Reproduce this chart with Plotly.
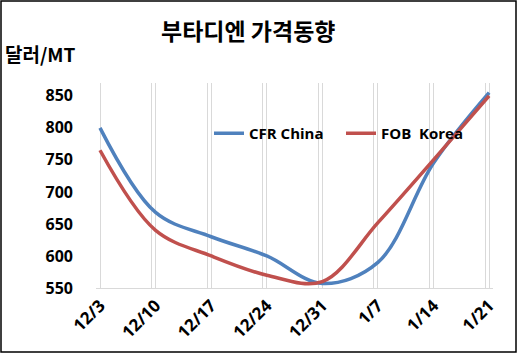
import plotly.graph_objects as go

categories = ["12/3", "12/10", "12/17", "12/24", "12/31", "1/7", "1/14", "1/21"]
cfr_china = [800, 668, 630, 600, 557, 590, 745, 855]
fob_korea = [765, 640, 600, 570, 560, 652, 750, 850]
y_ticks = [550, 600, 650, 700, 750, 800, 850]

W, H = 518, 354
L, R, T, B = 96, 25, 83, 66
pw, ph = W - L - R, H - T - B

xs = list(range(len(categories)))
font = "Open Sans, Noto Sans CJK KR, sans-serif"

fig = go.Figure()
fig.add_trace(go.Scatter(x=xs, y=cfr_china, name="CFR China", mode="lines",
                         line=dict(color="#4F81BD", width=3.5, shape="spline", smoothing=1.0)))
fig.add_trace(go.Scatter(x=xs, y=fob_korea, name="FOB  Korea", mode="lines",
                         line=dict(color="#C0504D", width=3.5, shape="spline", smoothing=1.0)))

def px_x(p):
    return (p - L) / pw

def px_y(p):
    return 1 - (p - T) / ph

fig.update_layout(
    width=W, height=H,
    margin=dict(l=L, r=R, t=T, b=B),
    paper_bgcolor="white", plot_bgcolor="white",
    font=dict(family=font, color="black"),
    showlegend=True,
    legend=dict(orientation="h", x=px_x(209), y=px_y(117), xanchor="left", yanchor="top",
                bgcolor="rgba(0,0,0,0)", font=dict(size=15, family=font, weight="bold"),
                itemwidth=30, tracegroupgap=0, entrywidth=87, entrywidthmode="pixels"),
    xaxis=dict(range=[-0.072, 7.07], tickmode="array", tickvals=xs, ticktext=categories,
               tickangle=-45, showgrid=True, gridcolor="#D9D9D9", gridwidth=1,
               showline=True, linecolor="#D9D9D9", linewidth=1, zeroline=False,
               ticks="", tickfont=dict(size=17, family=font, weight="bold"),
               minor=dict(tickmode="array", tickvals=[v - 0.072 for v in xs],
                          showgrid=True, gridcolor="#D9D9D9", gridwidth=1)),
    yaxis=dict(range=[550, 870], tickmode="array", tickvals=y_ticks, showgrid=False,
               zeroline=False, showline=False, ticks="",
               ticklabelstandoff=22,
               tickfont=dict(size=16, family=font, weight="bold")),
    annotations=[
        dict(text="부타디엔 가격동향", xref="paper", yref="paper", x=px_x(248), y=px_y(30),
             xanchor="center", yanchor="middle", showarrow=False,
             font=dict(size=23, family="Noto Sans CJK KR", weight="bold")),
        dict(text="달러/MT", xref="paper", yref="paper", x=px_x(3), y=px_y(53),
             xanchor="left", yanchor="middle", showarrow=False,
             font=dict(size=19, family="Noto Sans CJK KR", weight="bold")),
    ],
    shapes=[dict(type="rect", xref="paper", yref="paper",
                 x0=px_x(1), x1=px_x(W - 2), y0=px_y(1), y1=px_y(H - 2),
                 line=dict(color="black", width=1.5), fillcolor="rgba(0,0,0,0)", layer="above")],
)

fig.write_html("out.html")
